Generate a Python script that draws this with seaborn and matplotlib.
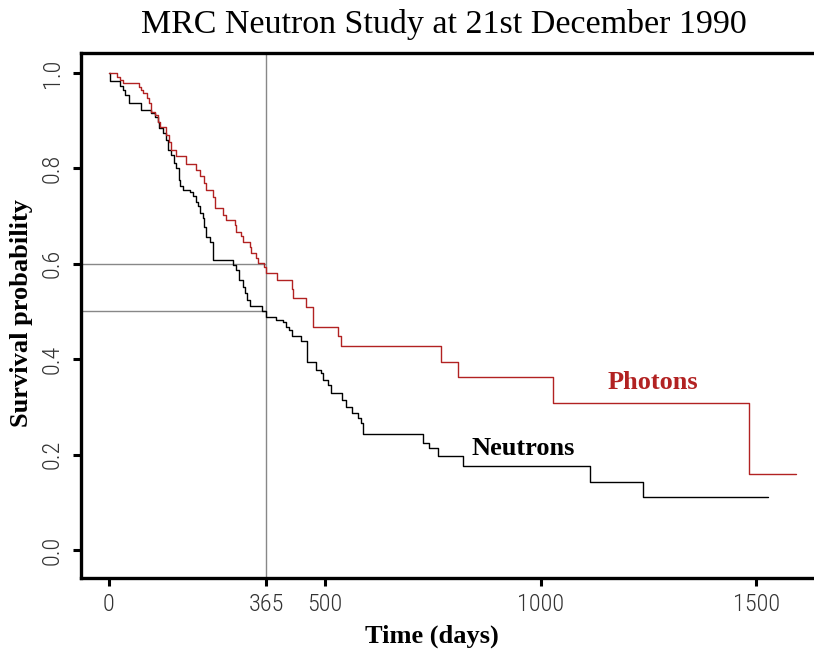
import numpy as np
import pandas as pd
import matplotlib
matplotlib.use('Agg')
import matplotlib.pyplot as plt
from matplotlib import font_manager
import seaborn as sns

# Kaplan-Meier steps: time of each drop and survival after it
neutron_time = [0, 2, 3, 25, 32, 36, 46, 75, 98, 106, 113, 117, 125, 131, 137,
                144, 150, 156, 162, 165, 171, 187, 194, 201, 206, 210, 217, 221,
                225, 233, 241, 287, 295, 302, 310, 316, 319, 326, 355, 364, 387,
                403, 410, 418, 424, 445, 460, 480, 491, 495, 507, 515, 541, 549,
                564, 576, 584, 589, 728, 742, 763, 821, 1114, 1237, 1528]
neutron_surv = [1.0, 0.989, 0.982, 0.973, 0.964, 0.954, 0.936, 0.922, 0.915,
                0.908, 0.898, 0.884, 0.873, 0.860, 0.839, 0.828, 0.811, 0.800,
                0.776, 0.762, 0.755, 0.751, 0.741, 0.730, 0.720, 0.706, 0.695,
                0.678, 0.657, 0.646, 0.608, 0.597, 0.587, 0.566, 0.552, 0.538,
                0.524, 0.512, 0.500, 0.489, 0.482, 0.477, 0.468, 0.461, 0.449,
                0.437, 0.395, 0.377, 0.370, 0.356, 0.346, 0.329, 0.314, 0.300,
                0.287, 0.276, 0.266, 0.243, 0.224, 0.213, 0.196, 0.176, 0.143,
                0.112, 0.112]

photon_time = [0, 19, 25, 32, 69, 75, 79, 87, 93, 98, 106, 113, 119, 133, 140,
               144, 156, 179, 202, 210, 221, 225, 242, 245, 264, 272, 291, 295,
               306, 310, 326, 329, 341, 345, 360, 364, 389, 424, 427, 457, 472,
               530, 538, 769, 808, 1029, 1484, 1591]
photon_surv = [1.0, 0.992, 0.985, 0.978, 0.971, 0.964, 0.957, 0.947, 0.936,
               0.919, 0.912, 0.898, 0.886, 0.870, 0.856, 0.839, 0.826, 0.810,
               0.797, 0.783, 0.769, 0.755, 0.740, 0.716, 0.702, 0.692, 0.681,
               0.667, 0.659, 0.646, 0.636, 0.622, 0.611, 0.601, 0.594, 0.581,
               0.565, 0.547, 0.528, 0.509, 0.468, 0.449, 0.428, 0.395, 0.363,
               0.309, 0.159, 0.159]

x_ticks = [0, 365, 500, 1000, 1500]
y_ticks = [0.0, 0.2, 0.4, 0.6, 0.8, 1.0]
colors = {'Neutrons': 'black', 'Photons': '#B22222'}

df = pd.concat([
    pd.DataFrame({'time': neutron_time, 'surv': neutron_surv, 'group': 'Neutrons'}),
    pd.DataFrame({'time': photon_time, 'surv': photon_surv, 'group': 'Photons'}),
], ignore_index=True)


def pick_narrow_font():
    # the tick labels are in a condensed face, use whatever narrow one is there
    fonts = font_manager.fontManager.ttflist
    names = set(f.name for f in fonts)
    for name in ['Liberation Sans Narrow', 'Roboto Condensed', 'Open Sans Condensed',
                 'Noto Sans Condensed', 'Arial Narrow']:
        if name in names:
            return dict(family=[name, 'DejaVu Sans'])
    for f in fonts:
        if f.name == 'DejaVu Sans' and f.stretch in ('condensed', 'semi-condensed'):
            return dict(family=['DejaVu Sans'], stretch='condensed')
    for f in fonts:
        if 'condensed' in str(f.stretch) or 'Condensed' in f.name or 'Narrow' in f.name:
            return dict(family=[f.name, 'DejaVu Sans'])
    return dict(family=['Liberation Sans', 'DejaVu Sans'])


sns.set_style('white')
plt.rcParams['font.family'] = ['Liberation Serif', 'DejaVu Serif']
plt.rcParams['text.color'] = 'black'

fig = plt.figure(figsize=(8.14, 6.54), dpi=100)
ax = fig.add_axes([0.0991, 0.1167, 0.9095, 0.8018])

sns.lineplot(data=df, x='time', y='surv', hue='group', palette=colors,
             estimator=None, sort=False, drawstyle='steps-post',
             linewidth=1.0, legend=False, ax=ax)

# reference lines at one year
ax.axvline(365, color='#888888', lw=1.0, zorder=0)
ax.hlines([0.6, 0.5], -70, 365, color='#888888', lw=1.0, zorder=0)

ax.set_xlim(-65.6, 1650)
ax.set_ylim(-0.058, 1.041)

tick_font = pick_narrow_font()
tick_font['size'] = 17.5
tick_font['weight'] = 'light'
ax.set_xticks(x_ticks)
ax.set_xticklabels([str(t) for t in x_ticks], fontdict=tick_font, color='#333333')
ax.xaxis.get_major_ticks()[1].tick1line.set_visible(False)
ax.set_yticks(y_ticks)
ax.set_yticklabels(['%.1f' % v for v in y_ticks], fontdict=tick_font,
                   color='#333333', rotation=90, va='center')
ax.tick_params(axis='both', direction='out', length=6, width=2.2, color='black',
               bottom=True, left=True)
ax.tick_params(axis='x', pad=5)
ax.tick_params(axis='y', pad=6)

for side in ['left', 'top', 'bottom']:
    ax.spines[side].set_linewidth(2.4)
    ax.spines[side].set_color('black')
ax.spines['right'].set_visible(False)

ax.set_xlabel('')
ax.set_ylabel('')
fig.text(432 / 814, 1 - 636 / 654, 'Time (days)', ha='center', va='center',
         fontsize=19, fontweight='bold', color='black')
fig.text(22 / 814, 1 - 313 / 654, 'Survival probability', ha='center',
         va='center', rotation=90, fontsize=19, fontweight='bold', color='black')
fig.text(444 / 814, 1 - 33 / 654, 'MRC Neutron Study at 21st December 1990',
         ha='center', va='baseline', fontsize=24.5, color='black')

ax.text(959, 0.212, 'Neutrons', ha='center', va='center', fontsize=19,
        fontweight='bold', color='black')
ax.text(1260, 0.352, 'Photons', ha='center', va='center', fontsize=19,
        fontweight='bold', color='#B22222')

fig.savefig('out.png', dpi=100)
